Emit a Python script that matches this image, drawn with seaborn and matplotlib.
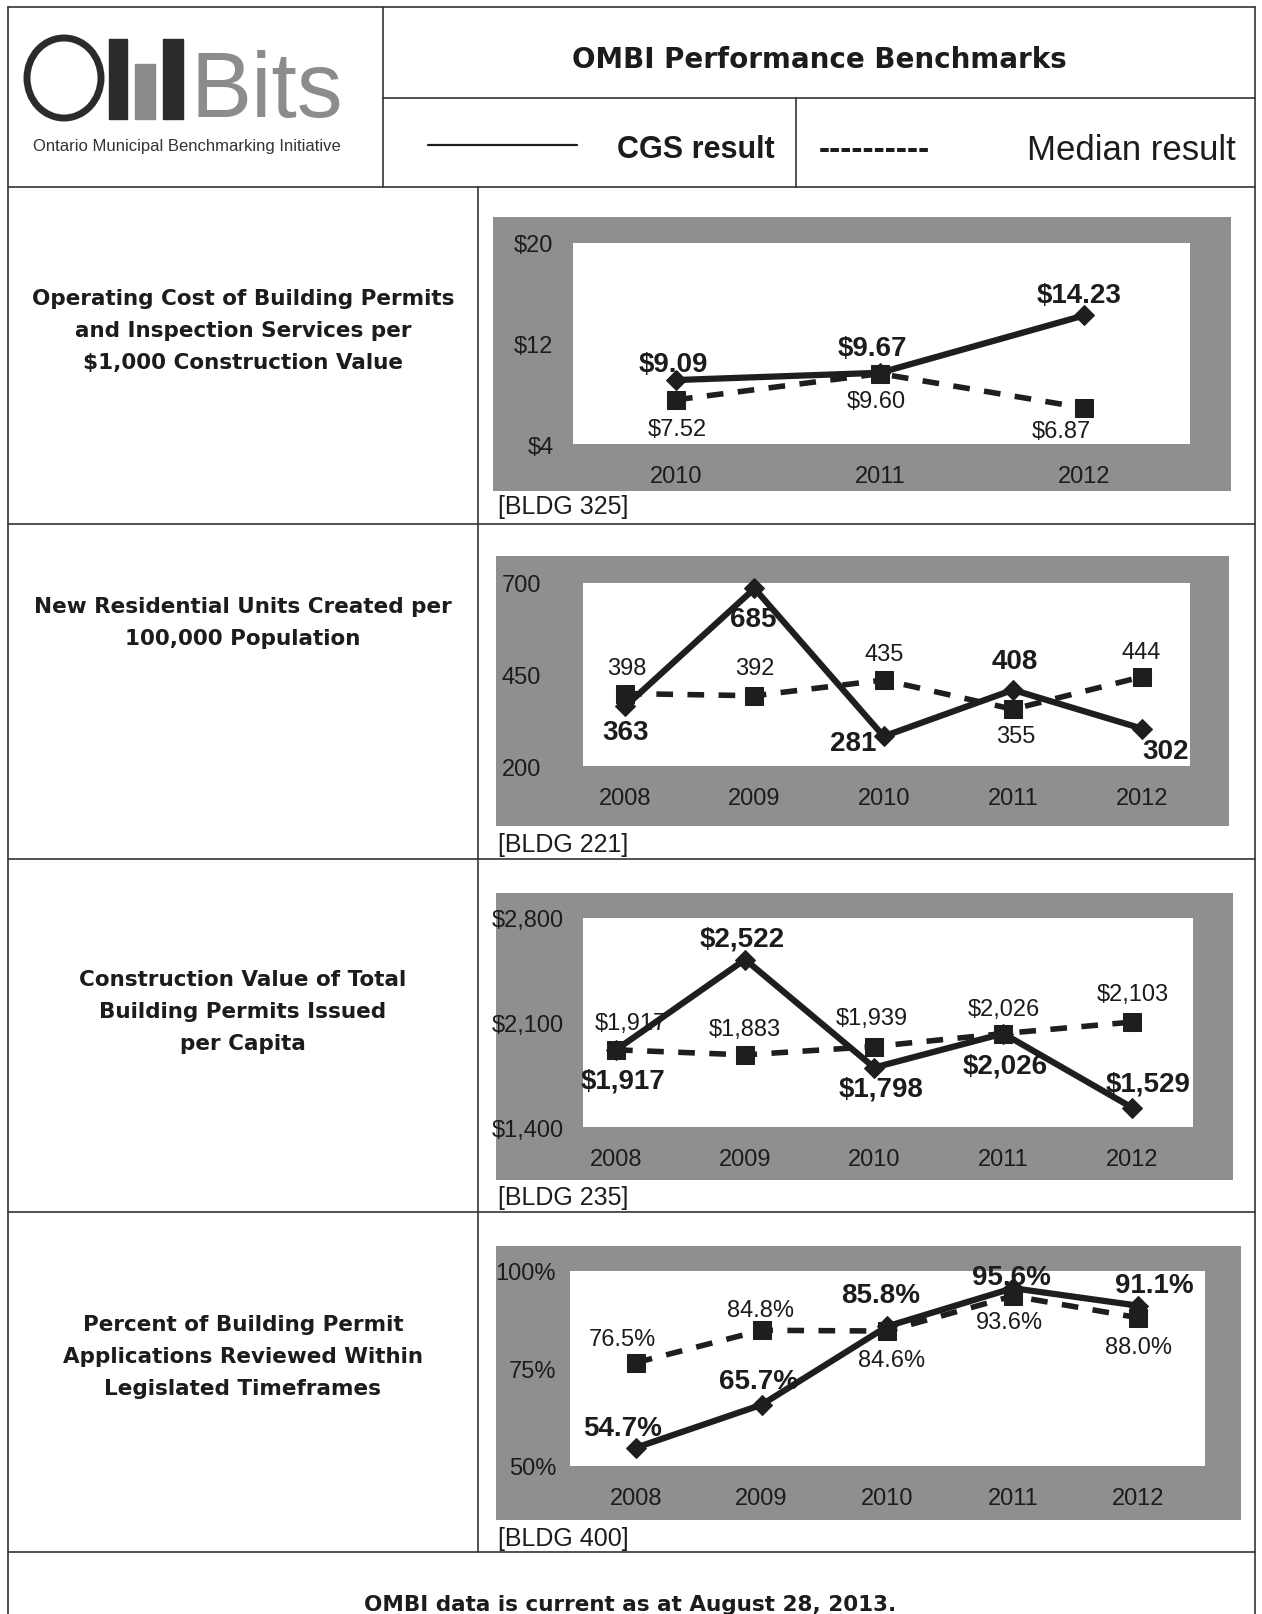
import numpy as np
import pandas as pd
import seaborn as sns
import matplotlib
matplotlib.use("Agg")
import matplotlib.pyplot as plt
from matplotlib.patches import Rectangle, Ellipse
from matplotlib.lines import Line2D

sns.set_theme(style="white")
plt.rcParams["font.family"] = ["DejaVu Sans"]

# ---------------- data ----------------
years_3 = ["2010", "2011", "2012"]
years_5 = ["2008", "2009", "2010", "2011", "2012"]

cost_cgs = [9.09, 9.67, 14.23]
cost_median = [7.52, 9.60, 6.87]

units_cgs = [363, 685, 281, 408, 302]
units_median = [398, 392, 435, 355, 444]

value_cgs = [1917, 2522, 1798, 2026, 1529]
value_median = [1917, 1883, 1939, 2026, 2103]

review_cgs = [54.7, 65.7, 85.8, 95.6, 91.1]
review_median = [76.5, 84.8, 84.6, 93.6, 88.0]

row_titles = [
    "Operating Cost of Building Permits\nand Inspection Services per\n$1,000 Construction Value",
    "New Residential Units Created per\n100,000 Population",
    "Construction Value of Total\nBuilding Permits Issued\nper Capita",
    "Percent of Building Permit\nApplications Reviewed Within\nLegislated Timeframes",
]
codes = ["[BLDG 325]", "[BLDG 221]", "[BLDG 235]", "[BLDG 400]"]

W, H = 1262, 1615
fig = plt.figure(figsize=(W / 100, H / 100), dpi=100)
fig.patch.set_facecolor("white")

INK = "#1c1c1c"
LINE = "#333333"
NARROW = ["Liberation Sans", "DejaVu Sans"]


def fx(x):
    return x / W


def fy(y):
    return 1 - y / H


def hline(y, x0, x1, lw=1.2):
    fig.add_artist(Line2D([fx(x0), fx(x1)], [fy(y), fy(y)], color=LINE, lw=lw,
                          transform=fig.transFigure))


def vline(x, y0, y1, lw=1.2):
    fig.add_artist(Line2D([fx(x), fx(x)], [fy(y0), fy(y1)], color=LINE, lw=lw,
                          transform=fig.transFigure))


# ---------------- table grid ----------------
hline(8, 8, 1255)
vline(8, 8, 1615)
vline(1255, 8, 1615)
vline(383, 8, 188)
hline(99, 383, 1255)
vline(796, 99, 188)
hline(188, 8, 1255)
vline(478, 188, 1553)
for yy in [525, 860, 1213, 1553]:
    hline(yy, 8, 1255)

# ---------------- logo ----------------
logo_ax = fig.add_axes([fx(20), fy(125), fx(360) - fx(20), fy(35) - fy(125)])
logo_ax.set_xlim(20, 360)
logo_ax.set_ylim(125, 35)
logo_ax.axis("off")
logo_ax.add_patch(Ellipse((64, 79), 74, 80, fill=False, lw=5, ec="#2b2b2b"))
logo_ax.add_patch(Rectangle((109, 40), 18, 80, color="#2b2b2b"))
logo_ax.add_patch(Rectangle((135, 65), 20, 55, color="#8a8a8a"))
logo_ax.add_patch(Rectangle((163, 40), 20, 80, color="#2b2b2b"))
fig.text(fx(190), fy(117), "Bits", fontsize=66,
         family=NARROW, color="#8c8c8c", ha="left", va="baseline")
fig.text(fx(187), fy(146), "Ontario Municipal Benchmarking Initiative", fontsize=12,
         family=NARROW, color="#333333", ha="center", va="center")

# ---------------- header ----------------
fig.text(fx(819), fy(60), "OMBI Performance Benchmarks", fontsize=20,
         fontweight="bold", color=INK, ha="center", va="center")
fig.add_artist(Line2D([fx(428), fx(577)], [fy(146), fy(146)], color=INK, lw=1.6,
                      transform=fig.transFigure))
fig.text(fx(775), fy(150), "CGS result", fontsize=22, fontweight="bold",
         family=NARROW, color=INK, ha="right", va="center")
fig.text(fx(819), fy(150), "----------", fontsize=24, fontweight="bold",
         family=NARROW, color=INK, ha="left", va="center")
fig.text(fx(1236), fy(150), "Median result", fontsize=25,
         family=NARROW, color=INK, ha="right", va="center")

# ---------------- row titles ----------------
title_y = [331, 623, 1012, 1357]
for t, yy in zip(row_titles, title_y):
    fig.text(fx(243), fy(yy), t, fontsize=15.5, fontweight="bold", color=INK,
             ha="center", va="center", linespacing=1.75, multialignment="center")

fig.text(fx(630), fy(1605), "OMBI data is current as at August 28, 2013.",
         fontsize=15.5, fontweight="bold", color=INK, ha="center", va="center")

# ---------------- charts ----------------
panels = [
    dict(gray=(493, 1231, 218, 492), plot=(573, 1190, 244, 445), xlim=(-0.505, 2.52),
         ylim=(4, 20), ticks=[4, 12, 20], fmt=lambda v: f"${v:g}", pad=14,
         years=years_3, cgs=cost_cgs, med=cost_median, code_y=507,
         lab_cgs=lambda v: f"${v:.2f}", lab_med=lambda v: f"${v:.2f}",
         off_cgs=[(-3, -16), (-7, -24), (-5, -20)],
         off_med=[(1, 28), (-4, 27), (-22, 22)]),
    dict(gray=(496, 1229, 557, 827), plot=(583, 1190, 584, 767), xlim=(-0.327, 4.37),
         ylim=(200, 700), ticks=[200, 450, 700], fmt=lambda v: f"{v:g}", pad=30,
         years=years_5, cgs=units_cgs, med=units_median, code_y=845,
         lab_cgs=lambda v: f"{v:d}", lab_med=lambda v: f"{v:d}",
         off_cgs=[(0, 25), (-1, 30), (-30, 6), (2, -28), (23, 22)],
         off_med=[(1, -25), (0, -27), (0, -25), (3, 26), (-1, -24)]),
    dict(gray=(496, 1233, 894, 1181), plot=(583, 1193, 919, 1128), xlim=(-0.256, 4.47),
         ylim=(1400, 2800), ticks=[1400, 2100, 2800], fmt=lambda v: f"${v:,.0f}", pad=14,
         years=years_5, cgs=value_cgs, med=value_median, code_y=1198,
         lab_cgs=lambda v: f"${v:,d}", lab_med=lambda v: f"${v:,d}",
         off_cgs=[(7, 30), (-3, -20), (7, 20), (2, 31), (15, -24)],
         off_med=[(14, -26), (0, -25), (-2, -28), (1, -24), (0, -27)]),
    dict(gray=(496, 1241, 1247, 1521), plot=(570, 1205, 1272, 1467), xlim=(-0.525, 4.53),
         ylim=(50, 100), ticks=[50, 75, 100], fmt=lambda v: f"{v:g}%", pad=10,
         years=years_5, cgs=review_cgs, med=review_median, code_y=1539,
         lab_cgs=lambda v: f"{v:.1f}%", lab_med=lambda v: f"{v:.1f}%",
         off_cgs=[(-13, -19), (-3, -23), (-6, -30), (-1, -11), (15, -20)],
         off_med=[(-13, -23), (-1, -20), (4, 28), (-3, 25), (0, 28)]),
]

for p, code in zip(panels, codes):
    gx0, gx1, gy0, gy1 = p["gray"]
    fig.add_artist(Rectangle((fx(gx0), fy(gy1)), fx(gx1) - fx(gx0), fy(gy0) - fy(gy1),
                             transform=fig.transFigure, facecolor="#8f8f8f",
                             edgecolor="none", zorder=0))
    px0, px1, py0, py1 = p["plot"]
    ax = fig.add_axes([fx(px0), fy(py1), fx(px1) - fx(px0), fy(py0) - fy(py1)])
    ax.set_zorder(2)
    ax.set_facecolor("white")

    n = len(p["years"])
    idx = np.arange(n)
    df = pd.DataFrame({
        "x": np.concatenate([idx, idx]),
        "value": list(p["med"]) + list(p["cgs"]),
        "series": ["Median"] * n + ["CGS"] * n,
    })
    # median result: dashed line with square markers
    sns.lineplot(data=df[df.series == "Median"], x="x", y="value", ax=ax,
                 color="#1e1e1e", linewidth=4.0, marker="s", markersize=13,
                 markeredgecolor="#1e1e1e", dashes=[(3, 2.6)], style="series",
                 legend=False)
    # CGS result: solid line with diamond markers, drawn on top
    sns.lineplot(data=df[df.series == "CGS"], x="x", y="value", ax=ax,
                 color="#1e1e1e", linewidth=4.5, marker="D", markersize=10,
                 markeredgecolor="#1e1e1e", legend=False)
    for ln in ax.lines:
        ln.set_clip_on(False)

    ax.set_xlim(*p["xlim"])
    ax.set_ylim(*p["ylim"])
    ax.set_xticks(idx)
    ax.set_xticklabels(p["years"])
    ax.set_yticks(p["ticks"])
    ax.set_yticklabels([p["fmt"](v) for v in p["ticks"]])
    ax.set_xlabel("")
    ax.set_ylabel("")
    ax.tick_params(axis="x", length=0, pad=15, labelsize=17, labelcolor=INK)
    ax.tick_params(axis="y", length=0, pad=p["pad"], labelsize=17, labelcolor=INK)
    for lab in ax.get_xticklabels() + ax.get_yticklabels():
        lab.set_family(NARROW)
    for s in ax.spines.values():
        s.set_visible(False)
    ax.grid(False)

    for i, v in enumerate(p["med"]):
        dx, dy = p["off_med"][i]
        ax.annotate(p["lab_med"](v), (i, v), xytext=(dx * 1.03, -dy * 1.03),
                    textcoords="offset pixels", ha="center", va="center",
                    fontsize=17, family=NARROW, color=INK, zorder=5,
                    annotation_clip=False)
    for i, v in enumerate(p["cgs"]):
        dx, dy = p["off_cgs"][i]
        ax.annotate(p["lab_cgs"](v), (i, v), xytext=(dx * 1.03, -dy * 1.03),
                    textcoords="offset pixels", ha="center", va="center",
                    fontsize=20, fontweight="bold", family=NARROW, color=INK,
                    zorder=6, annotation_clip=False)

    fig.text(fx(498), fy(p["code_y"]), code, fontsize=18, family=NARROW, color=INK,
             ha="left", va="center")

fig.savefig("out.png", dpi=100, facecolor="white")
